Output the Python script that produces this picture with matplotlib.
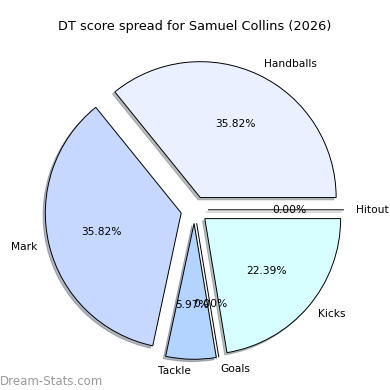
import matplotlib
matplotlib.use("Agg")
import matplotlib.pyplot as plt

labels = ["Hitout", "Handballs", "Mark", "Tackle", "Goals", "Kicks"]
scores = [0, 24, 24, 4, 0, 15]
colors = ["#e0e8ff", "#eaf0ff", "#c6d8ff", "#b3d4ff", "#cce0ff", "#d8ffff"]
explode = [0.1] * len(labels)

fig, ax = plt.subplots(figsize=(3.9, 3.9), dpi=100)
fig.subplots_adjust(left=0.062, right=0.935, bottom=0.0265, top=0.8975)
ax.pie(scores, labels=labels, colors=colors, explode=explode,
       autopct="%1.2f%%", shadow={"ox": -0.012, "oy": -0.012, "shade": 0.5},
       startangle=0, labeldistance=1.09,
       wedgeprops={"edgecolor": "black", "linewidth": 0.7},
       textprops={"fontsize": 7.7})
ax.set_title("DT score spread for Samuel Collins (2026)", fontsize=9.3, pad=7)
fig.text(0.0, 0.012, "Dream-Stats.com", fontsize=8.5, color="#999999")

plt.savefig("out.png")
